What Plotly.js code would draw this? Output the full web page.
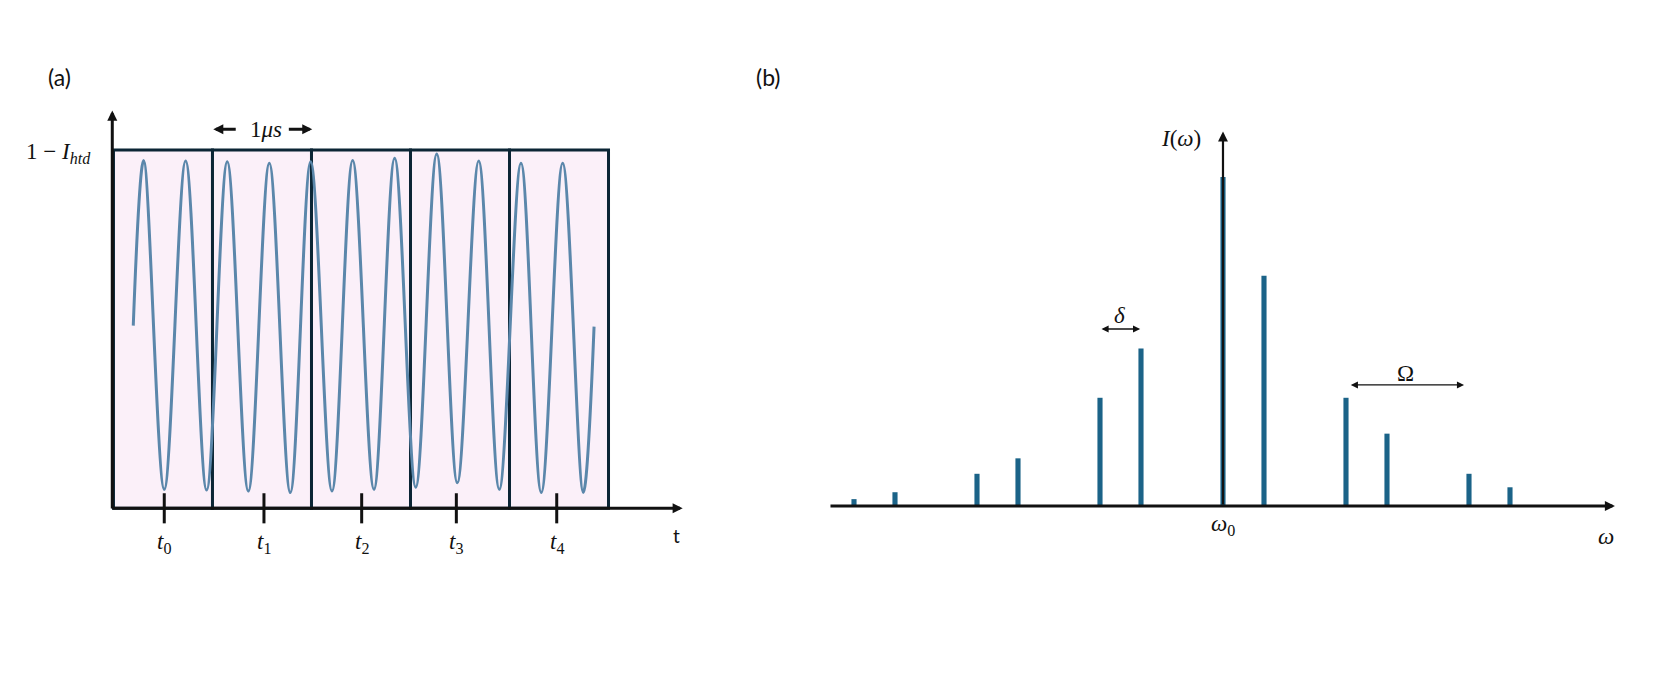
<!DOCTYPE html>
<html>
<head>
<meta charset="utf-8">
<script src="https://cdn.plot.ly/plotly-3.0.1.min.js"></script>
<style>
  html, body { margin: 0; padding: 0; background: #ffffff; }
  #grafico { width: 1661px; height: 687px; }
</style>
</head>
<body>
<div id="grafico"></div>
<script>
// panel (a): signal, time in us, level 0..1 (box height)
var waveT = [0.200,
  0.305, 0.513, 0.729, 0.941, 1.149, 1.362, 1.574, 1.786, 1.992, 2.207, 2.416,
  2.631, 2.840, 3.053, 3.265, 3.473, 3.689, 3.897, 4.116, 4.321, 4.537, 4.745,
  4.854];
var waveLevel = [0.510,
  0.971, 0.053, 0.969, 0.051, 0.967, 0.048, 0.963, 0.044, 0.967, 0.048, 0.971,
  0.053, 0.977, 0.059, 0.989, 0.071, 0.969, 0.053, 0.963, 0.044, 0.963, 0.044,
  0.507];
var boxStarts = [0, 1, 2, 3, 4];
var tickTimes = [0.513, 1.520, 2.507, 3.463, 4.477];
var tickLabels = ["<i>t</i><sub>0</sub>", "<i>t</i><sub>1</sub>", "<i>t</i><sub>2</sub>",
  "<i>t</i><sub>3</sub>", "<i>t</i><sub>4</sub>"];

// panel (b): spectrum, offsets from w0 in units of delta, relative intensity
var omegaOffsets = [-9, -8, -6, -5, -3, -2, 0, 1, 3, 4, 6, 7];
var intensity = [0.021, 0.042, 0.098, 0.145, 0.329, 0.479, 1.000, 0.700, 0.329, 0.220, 0.098, 0.057];

var mathFont = {family: "Liberation Serif", size: 23, color: "#111111"};
var ink = "#111111";

var data = [
  {x: waveT, y: waveLevel, type: "scatter", mode: "lines",
   line: {color: "#5b87ab", width: 3, shape: "spline", smoothing: 1},
   xaxis: "x", yaxis: "y", hoverinfo: "skip"},
  {x: omegaOffsets, y: intensity, type: "bar", width: 0.125,
   marker: {color: "#1b6388", line: {width: 0}},
   xaxis: "x2", yaxis: "y2", hoverinfo: "skip"}
];

var shapes = [];
boxStarts.forEach(function (b) {
  shapes.push({type: "rect", xref: "x", yref: "y", x0: b, x1: b + 1, y0: 0, y1: 1,
    fillcolor: "#fbf0f9", line: {color: "#0b2535", width: 3}, layer: "below"});
});
tickTimes.forEach(function (t) {
  shapes.push({type: "line", xref: "x", yref: "y", x0: t, x1: t, y0: -0.042, y1: 0.042,
    line: {color: ink, width: 3}});
});

function arrow(xr, yr, x0, y0, x1, y1, w, size, both) {
  return {xref: xr, yref: yr, axref: xr, ayref: yr, x: x1, y: y1, ax: x0, ay: y0,
    text: "", showarrow: true, arrowhead: 2, arrowsize: size, arrowwidth: w,
    arrowcolor: ink, standoff: 0, startstandoff: 0,
    arrowside: both ? "end+start" : "end", startarrowhead: 2, startarrowsize: size};
}

var annotations = [
  // panel (a) axes
  arrow("x", "y", -0.012, -0.005, -0.012, 1.110, 3, 0.67),
  arrow("x", "y", -0.025, 0, 5.749, 0, 3, 0.67),
  // 1 us marker
  arrow("x", "y", 1.250, 1.058, 1.008, 1.058, 3, 0.67),
  arrow("x", "y", 1.756, 1.058, 2.008, 1.058, 3, 0.67),
  // panel (b) axes
  arrow("x2", "y2", -9.61, 0, 9.56, 0, 3, 0.67),
  arrow("x2", "y2", 0, 0, 0, 1.138, 2.2, 0.9),
  // delta and Omega spacings
  arrow("x2", "y2", -3.0, 0.538, -2.02, 0.538, 1.3, 1.1, true),
  arrow("x2", "y2", 3.08, 0.368, 5.88, 0.368, 1.3, 1.1, true)
];

var labels = [
  {xref: "paper", yref: "paper", x: 59 / 1661, y: 1 - 77 / 687, text: "(a)",
   font: {family: "Lato", size: 23, color: ink}},
  {xref: "paper", yref: "paper", x: 768 / 1661, y: 1 - 77 / 687, text: "(b)",
   font: {family: "Lato", size: 23, color: ink}},
  {xref: "paper", yref: "paper", x: 93 / 1661, y: 1 - 153 / 687, xanchor: "right",
   text: "1 − <i>I</i><sub><i>htd</i></sub>", font: mathFont},
  {xref: "x", yref: "y", x: 1.537, y: 1.056, text: "1<i>μs</i>", font: mathFont},
  {xref: "x", yref: "y", x: 5.682, y: -0.075, text: "t",
   font: {family: "Lato", size: 19, color: ink}},
  {xref: "x2", yref: "y2", x: -0.49, y: 1.116, xanchor: "right",
   text: "<i>I</i>(<i>ω</i>)", font: mathFont},
  {xref: "x2", yref: "y2", x: 0, y: -0.058, text: "<i>ω</i><sub>0</sub>", font: mathFont},
  {xref: "x2", yref: "y2", x: 9.33, y: -0.094, text: "<i>ω</i>", font: mathFont},
  {xref: "x2", yref: "y2", x: -2.53, y: 0.578, text: "<i>δ</i>", font: mathFont},
  {xref: "x2", yref: "y2", x: 4.44, y: 0.403, text: "Ω", font: mathFont}
];
tickTimes.forEach(function (t, i) {
  labels.push({xref: "x", yref: "y", x: t, y: -0.097, text: tickLabels[i], font: mathFont});
});
labels.forEach(function (l) {
  l.showarrow = false;
  if (!l.xanchor) l.xanchor = "center";
  l.yanchor = "middle";
});

var hidden = {visible: false, fixedrange: true, zeroline: false, showgrid: false};
var layout = {
  width: 1661, height: 687,
  margin: {l: 0, r: 0, t: 0, b: 0},
  paper_bgcolor: "#ffffff", plot_bgcolor: "rgba(0,0,0,0)",
  showlegend: false,
  xaxis: Object.assign({domain: [100 / 1661, 700 / 1661], range: [-0.136, 5.924]}, hidden),
  yaxis: Object.assign({domain: [1 - 560 / 687, 1 - 100 / 687], range: [-0.1443, 1.1396]}, hidden),
  xaxis2: Object.assign({domain: [800 / 1661, 1640 / 1661], range: [-10.317, 10.171], anchor: "y2"}, hidden),
  yaxis2: Object.assign({domain: [1 - 560 / 687, 1 - 100 / 687], range: [-0.164, 1.234], anchor: "x2"}, hidden),
  shapes: shapes,
  annotations: annotations.concat(labels)
};

Plotly.newPlot("grafico", data, layout, {staticPlot: true});
</script>
</body>
</html>
